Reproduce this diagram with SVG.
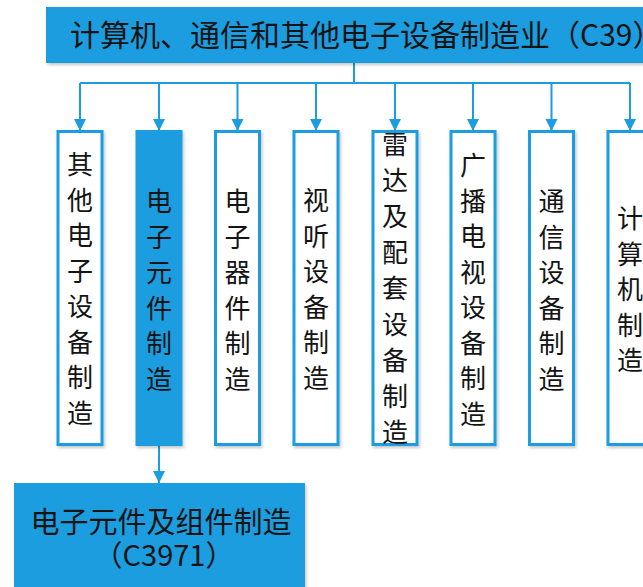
<svg xmlns="http://www.w3.org/2000/svg" width="643" height="587" viewBox="0 0 643 587">
<defs>
<style>
.fill{fill:#1b9ddf;}
.box{fill:#ffffff;stroke:#1b9ddf;stroke-width:3;}
.t{font-family:"Noto Sans CJK SC","Noto Sans",sans-serif;fill:#141414;}
.v{font-size:26px;text-anchor:middle;}
.conn{stroke:#1b9ddf;stroke-width:2;fill:none;}
</style>
<filter id="sh" x="-20%" y="-20%" width="140%" height="140%">
<feDropShadow dx="1.5" dy="2" stdDeviation="1.5" flood-color="#000" flood-opacity="0.22"/>
</filter>
<marker id="ar" markerUnits="userSpaceOnUse" markerWidth="14" markerHeight="14" viewBox="0 0 14 14" refX="12" refY="7" orient="auto">
<path d="M0,1 L12,7 L0,13 Z" fill="#1b9ddf"/>
</marker>
</defs>
<g id="connectors">
<path class="conn" d="M354,63 V83"/>
<path class="conn" d="M80,83 H630"/>
<path class="conn" d="M80,83 V131" marker-end="url(#ar)"/>
<path class="conn" d="M159,83 V131" marker-end="url(#ar)"/>
<path class="conn" d="M237.5,83 V131" marker-end="url(#ar)"/>
<path class="conn" d="M316,83 V131" marker-end="url(#ar)"/>
<path class="conn" d="M395,83 V131" marker-end="url(#ar)"/>
<path class="conn" d="M473,83 V131" marker-end="url(#ar)"/>
<path class="conn" d="M551.5,83 V131" marker-end="url(#ar)"/>
<path class="conn" d="M630,83 V131" marker-end="url(#ar)"/>
<path class="conn" d="M159,446 V483" marker-end="url(#ar)"/>
</g>
<g id="top">
<rect class="fill" x="46" y="7" width="620" height="56" filter="url(#sh)"/>
<text class="t" x="70" y="46" font-size="30">计算机、通信和其他电子设备制造业（C39）</text>
</g>
<g id="n1">
<rect class="box" x="58" y="131.5" width="44" height="313" filter="url(#sh)"/>
<text class="t v"><tspan x="80" y="174">其</tspan><tspan x="80" y="209.5">他</tspan><tspan x="80" y="245">电</tspan><tspan x="80" y="280.5">子</tspan><tspan x="80" y="316">设</tspan><tspan x="80" y="351.5">备</tspan><tspan x="80" y="387">制</tspan><tspan x="80" y="422.5">造</tspan></text>
</g>
<g id="n2">
<rect class="fill" x="135.5" y="130" width="47" height="316" filter="url(#sh)"/>
<text class="t v"><tspan x="159" y="211">电</tspan><tspan x="159" y="246.5">子</tspan><tspan x="159" y="282">元</tspan><tspan x="159" y="317.5">件</tspan><tspan x="159" y="353">制</tspan><tspan x="159" y="388.5">造</tspan></text>
</g>
<g id="n3">
<rect class="box" x="215.5" y="131.5" width="44" height="313" filter="url(#sh)"/>
<text class="t v"><tspan x="237.5" y="211">电</tspan><tspan x="237.5" y="246.5">子</tspan><tspan x="237.5" y="282">器</tspan><tspan x="237.5" y="317.5">件</tspan><tspan x="237.5" y="353">制</tspan><tspan x="237.5" y="388.5">造</tspan></text>
</g>
<g id="n4">
<rect class="box" x="294" y="131.5" width="44" height="313" filter="url(#sh)"/>
<text class="t v"><tspan x="316" y="210">视</tspan><tspan x="316" y="245.5">听</tspan><tspan x="316" y="281">设</tspan><tspan x="316" y="316.5">备</tspan><tspan x="316" y="352">制</tspan><tspan x="316" y="387.5">造</tspan></text>
</g>
<g id="n5">
<rect class="box" x="373" y="131.5" width="44" height="313" filter="url(#sh)"/>
<text class="t v"><tspan x="395" y="154">雷</tspan><tspan x="395" y="190">达</tspan><tspan x="395" y="226">及</tspan><tspan x="395" y="262">配</tspan><tspan x="395" y="298">套</tspan><tspan x="395" y="334">设</tspan><tspan x="395" y="370">备</tspan><tspan x="395" y="406">制</tspan><tspan x="395" y="442">造</tspan></text>
</g>
<g id="n6">
<rect class="box" x="451" y="131.5" width="44" height="313" filter="url(#sh)"/>
<text class="t v"><tspan x="473" y="175">广</tspan><tspan x="473" y="210.5">播</tspan><tspan x="473" y="246">电</tspan><tspan x="473" y="281.5">视</tspan><tspan x="473" y="317">设</tspan><tspan x="473" y="352.5">备</tspan><tspan x="473" y="388">制</tspan><tspan x="473" y="423.5">造</tspan></text>
</g>
<g id="n7">
<rect class="box" x="529.5" y="131.5" width="44" height="313" filter="url(#sh)"/>
<text class="t v"><tspan x="551.5" y="211">通</tspan><tspan x="551.5" y="246.5">信</tspan><tspan x="551.5" y="282">设</tspan><tspan x="551.5" y="317.5">备</tspan><tspan x="551.5" y="353">制</tspan><tspan x="551.5" y="388.5">造</tspan></text>
</g>
<g id="n8">
<rect class="box" x="608" y="131.5" width="44" height="313" filter="url(#sh)"/>
<text class="t v"><tspan x="630" y="228">计</tspan><tspan x="630" y="263.5">算</tspan><tspan x="630" y="299">机</tspan><tspan x="630" y="334.5">制</tspan><tspan x="630" y="370">造</tspan></text>
</g>
<g id="bottom">
<rect class="fill" x="14" y="483" width="291" height="120" filter="url(#sh)"/>
<text class="t" font-size="29" text-anchor="middle"><tspan x="161" y="533">电子元件及组件制造</tspan><tspan x="164" y="566">（C3971）</tspan></text>
</g>
</svg>
